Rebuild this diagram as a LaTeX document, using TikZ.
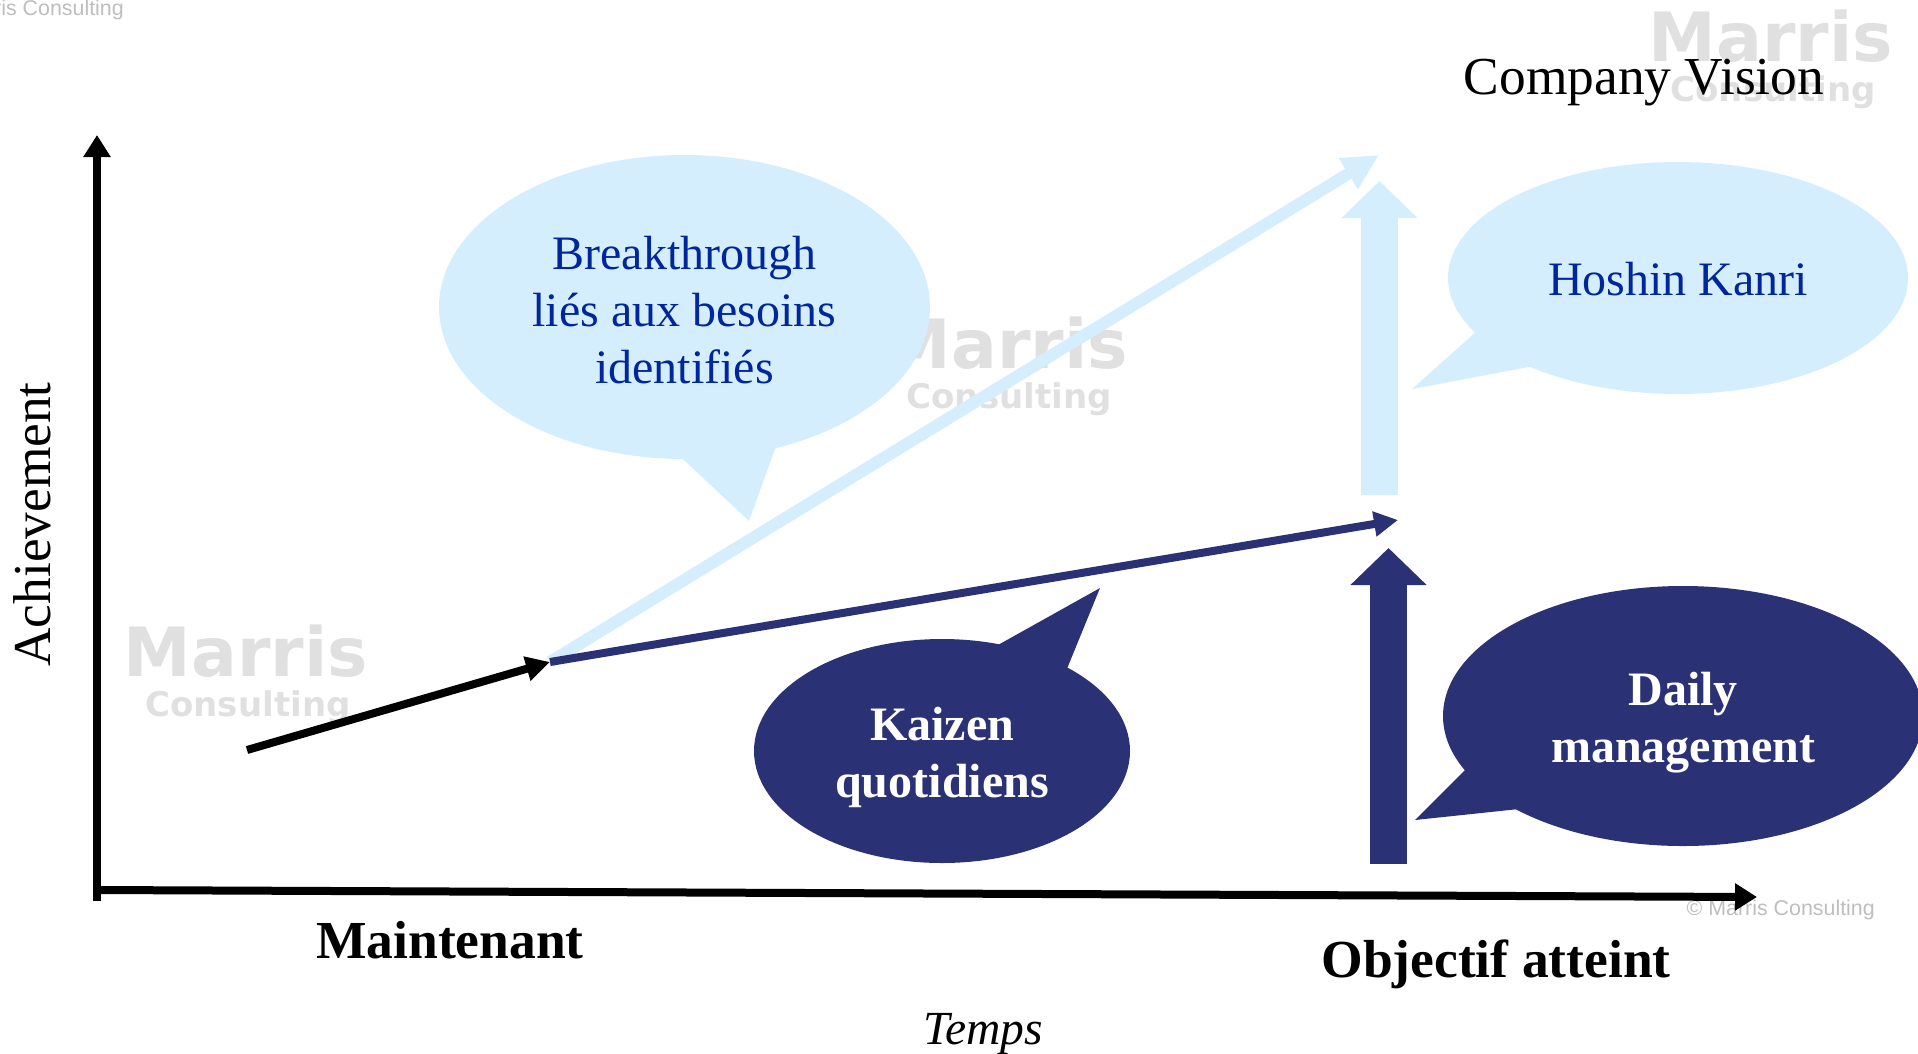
\documentclass[tikz,border=0pt]{standalone}
\usepackage{fontspec}
\setmainfont{Liberation Serif}
\newfontfamily\marksans{Liberation Sans}
\newfontfamily\markbold{DejaVu Sans Bold}
\usepackage{tikz}
\usetikzlibrary{shapes.geometric, arrows.meta}
\definecolor{lightblue}{HTML}{D5EEFE}
\definecolor{darkblue}{HTML}{2B3175}
\definecolor{textblue}{HTML}{00269B}
\definecolor{markgray}{HTML}{E0E0E0}
\definecolor{copygray}{HTML}{BEBEBE}
\newcommand{\pts}[1]{\fontsize{#1}{#1}\selectfont}
\tikzstyle{bubblelight}=[%
      ellipse, fill=lightblue, inner sep=0pt, outer sep=0pt
]
\tikzstyle{bubbledark}=[%
      ellipse, fill=darkblue, inner sep=0pt, outer sep=0pt
]
\tikzstyle{textlight}=[%
      inner sep=0pt, align=center, text=textblue, font=\fontsize{48}{57}\selectfont
]
\tikzstyle{textdark}=[%
      inner sep=0pt, align=center, text=white, font=\fontsize{48}{57}\selectfont\bfseries
]
\tikzstyle{axislabel}=[%
      inner sep=0pt, font=\pts{53.5}\bfseries
]
\tikzstyle{axis}=[%
      line width=8pt, -{Triangle[length=22pt,width=26pt]}
]
\tikzstyle{trend}=[%
      line width=8pt, -{Triangle[length=24pt,width=24pt]}
]
\tikzstyle{block}=[%
      line width=37pt, -{Triangle[length=37pt,width=74pt]}
]
\tikzstyle{markbig}=[text=markgray, inner sep=0pt, font=\markbold\pts{68}]
\tikzstyle{marksmall}=[text=markgray, inner sep=0pt, font=\markbold\pts{34}]
\tikzstyle{copyright}=[text=copygray, inner sep=0pt, font=\marksans\pts{21.4}]

\begin{document}
\begin{tikzpicture}[x=1pt,y=-1pt]
    \useasboundingbox (0,0) rectangle (1918,1053);

    % watermarks
    \node[markbig]   (mark1)  at (246,651)  {Marris};
    \node[marksmall] (cons1)  at (248,707)  {Consulting};
    \node[markbig]   (mark2)  at (1006,343) {Marris};
    \node[marksmall] (cons2)  at (1009,399) {Consulting};
    \node[markbig]   (mark3)  at (1771,36)  {Marris};
    \node[marksmall] (cons3)  at (1773,92)  {Consulting};
    \node[copyright, anchor=east] (copy1) at (124,10)   {© Marris Consulting};
    \node[copyright, anchor=east] (copy2) at (1875,910) {© Marris Consulting};

    \coordinate (origin) at (97,901);
    \coordinate (top)    at (97,135);
    \coordinate (left)   at (98,890);
    \coordinate (right)  at (1757,897);
    \coordinate (start)  at (247,750);
    \coordinate (now)    at (550,662);
    \coordinate (goal)   at (1398,520);
    \coordinate (vision) at (1379,155);
    \coordinate (lowA)   at (1379.5,495);
    \coordinate (lowB)   at (1379.5,181);
    \coordinate (dayA)   at (1388.5,864);
    \coordinate (dayB)   at (1388.5,548);

    % arrows
    \draw[axis] (origin) -- (top);
    \draw[axis] (left) -- (right);
    \draw[lightblue, line width=12pt, -{Triangle[length=36pt,width=34pt]}] (now) -- (vision);
    \draw[block, lightblue] (lowA) -- (lowB);
    \draw[block, darkblue] (dayA) -- (dayB);
    \draw[trend] (start) -- (now);
    \draw[trend, darkblue] (now) -- (goal);

    % bubbles
    \fill[lightblue] (670,447) -- (749,521) -- (779,438) -- cycle;
    \node[bubblelight, minimum width=491pt, minimum height=304pt] (breakthrough) at (684.5,307) {};
    \node[textlight, yshift=-3pt] (breakthroughtext) at (breakthrough) {Breakthrough\\liés aux besoins\\identifiés};
    \fill[lightblue] (1488,321) -- (1412,389) -- (1550,363) -- cycle;
    \node[bubblelight, minimum width=460pt, minimum height=232pt] (hoshin) at (1678,278) {};
    \node[textlight, yshift=-1pt] (hoshintext) at (hoshin) {Hoshin Kanri};
    \fill[darkblue] (989,650) -- (1100,588) -- (1064,676) -- cycle;
    \node[bubbledark, minimum width=376pt, minimum height=224pt] (kaizen) at (942,751) {};
    \node[textdark, yshift=-6pt] (kaizentext) at (kaizen) {Kaizen\\quotidiens};
    \fill[darkblue] (1470,765) -- (1415,820) -- (1519,809) -- cycle;
    \node[bubbledark, minimum width=480pt, minimum height=260pt] (daily) at (1683,716) {};
    \node[textdark, yshift=-7pt] (dailytext) at (daily) {Daily\\management};

    % labels
    \node[inner sep=0pt, font=\pts{53.4}] (company) at (1644,83) {Company Vision};
    \node[axislabel] (maintenant) at (450,940) {Maintenant};
    \node[axislabel] (objectif) at (1496,964) {Objectif atteint};
    \node[inner sep=0pt, font=\pts{47.5}\itshape] (temps) at (983,1034) {Temps};
    \node[inner sep=0pt, font=\pts{53.3}, rotate=90] (achievement) at (32,524.5) {Achievement};
\end{tikzpicture}
\end{document}
